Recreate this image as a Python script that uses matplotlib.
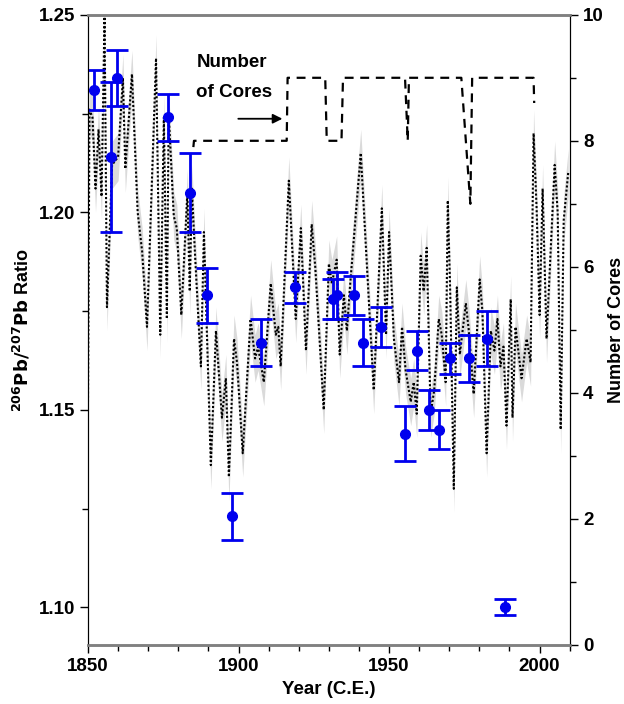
import matplotlib.pyplot as plt
from matplotlib.ticker import MultipleLocator

plt.rcParams['font.family'] = ['Liberation Sans', 'DejaVu Sans']
plt.rcParams['font.weight'] = 'bold'

# Pb isotope record (peaks / troughs)
rec_year = [1850, 1850.5, 1851.5, 1852.5, 1853.5, 1854.5, 1855.5, 1856.3, 1858, 1860, 1861.6, 1862.4,
            1864.6, 1866.5, 1868, 1869.6, 1872.6, 1874, 1875.2, 1876.2, 1876.8, 1878.5, 1879.5,
            1881, 1883, 1883.8, 1884.5, 1885.5, 1887.5, 1888.5, 1890.8, 1892.5, 1894.5, 1895.8,
            1896.8, 1898.5, 1899.5, 1901.4, 1904, 1905.5, 1906.5, 1908.4, 1910.7, 1912.4, 1913.2,
            1914, 1916.7, 1917.5, 1919, 1920.7, 1922.4, 1924.3, 1925.5, 1928.3, 1930, 1931,
            1932.6, 1933.6, 1935, 1936, 1937, 1940.6, 1941.6, 1944.9, 1947.6, 1949, 1950, 1951.6,
            1953.3, 1954.3, 1955.5, 1957.2, 1958.2, 1959.2, 1960.5, 1961.5, 1962.5, 1963.8,
            1965, 1966.5, 1967.5, 1968.8, 1969.5, 1970.3, 1971.5, 1972.5, 1973.5, 1975.5, 1976.5,
            1978.1, 1980.1, 1981, 1982.4, 1983.8, 1985, 1986, 1987, 1988, 1989, 1990.4, 1991,
            1992, 1994, 1995.7, 1997, 1998, 1999, 2000, 2001, 2002.3, 2005, 2006, 2007, 2008, 2009.5]
rec_ratio = [1.152, 1.226, 1.224, 1.206, 1.221, 1.204, 1.250, 1.176, 1.212, 1.214, 1.234, 1.211,
             1.235, 1.200, 1.190, 1.171, 1.239, 1.169, 1.224, 1.173, 1.225, 1.199, 1.196,
             1.174, 1.205, 1.180, 1.206, 1.190, 1.161, 1.195, 1.136, 1.170, 1.148, 1.158,
             1.133, 1.168, 1.162, 1.139, 1.173, 1.163, 1.166, 1.157, 1.182, 1.169, 1.171,
             1.161, 1.208, 1.196, 1.173, 1.196, 1.165, 1.197, 1.186, 1.150, 1.187, 1.182,
             1.188, 1.164, 1.179, 1.170, 1.181, 1.215, 1.201, 1.155, 1.201, 1.169, 1.195, 1.168,
             1.157, 1.171, 1.160, 1.152, 1.157, 1.149, 1.189, 1.180, 1.191, 1.149,
             1.155, 1.173, 1.169, 1.157, 1.203, 1.180, 1.130, 1.181, 1.164, 1.177, 1.170,
             1.154, 1.183, 1.175, 1.139, 1.170, 1.165, 1.173, 1.161, 1.166, 1.146, 1.178, 1.148,
             1.171, 1.158, 1.168, 1.162, 1.220, 1.201, 1.174, 1.206, 1.168, 1.212, 1.200, 1.145, 1.198, 1.210]
band = 0.006

# discrete samples with error bars
pt_year = [1852, 1857.6, 1859.6, 1876.6, 1883.9, 1889.5, 1897.8, 1907.4, 1918.7, 1931.3, 1932.6,
           1938.3, 1941.3, 1947.3, 1955.2, 1959.2, 1963.2, 1966.5, 1970.4, 1976.4, 1982.4, 1988.4]
pt_ratio = [1.231, 1.214, 1.234, 1.224, 1.205, 1.179, 1.123, 1.167, 1.181, 1.178, 1.179,
            1.179, 1.167, 1.171, 1.144, 1.165, 1.150, 1.145, 1.163, 1.163, 1.168, 1.100]
pt_err = [0.005, 0.019, 0.007, 0.006, 0.010, 0.007, 0.006, 0.006, 0.004, 0.005, 0.006,
          0.005, 0.006, 0.005, 0.007, 0.005, 0.005, 0.005, 0.004, 0.006, 0.007, 0.002]

# number of cores
core_year = [1885, 1885.2, 1916, 1916.3, 1928.8, 1929.3, 1934.2, 1934.7, 1955.3, 1956.2, 1956.6,
             1974, 1977, 1977.6, 1998, 1998.2]
core_n = [7.9, 8, 8, 9, 9, 8, 8, 9, 9, 8, 9, 9, 7, 9, 9, 8.6]

fs = 13.5
fig, ax = plt.subplots(figsize=(6.24, 7.04), dpi=100)
fig.subplots_adjust(left=0.141, right=0.913, bottom=0.084, top=0.979)

ax.fill_between(rec_year, [r - band for r in rec_ratio], [r + band for r in rec_ratio],
                color='#dadada', lw=0, zorder=1)
ax.plot(rec_year, rec_ratio, color='black', ls=(0, (1, 1)), lw=1.5, zorder=2)
ax.errorbar(pt_year, pt_ratio, yerr=pt_err, fmt='o', color='#0000ee', ms=7,
            elinewidth=2, capsize=8, capthick=2, zorder=4)

ax.set_xlim(1850, 2010)
ax.set_ylim(1.0905, 1.25)
ax.xaxis.set_major_locator(MultipleLocator(50))
ax.xaxis.set_minor_locator(MultipleLocator(10))
ax.yaxis.set_major_locator(MultipleLocator(0.05))
ax.yaxis.set_minor_locator(MultipleLocator(0.025))
ax.yaxis.set_major_formatter(plt.FormatStrFormatter('%.2f'))
ax.tick_params(labelsize=fs, length=6, width=1)
ax.tick_params(which='minor', length=4, width=1)
ax.set_xlabel('Year (C.E.)', fontsize=fs, fontweight='bold')
ax.set_ylabel('$\\mathbf{^{206}Pb/^{207}Pb}$ Ratio', fontsize=13, fontweight='bold')
for s in ['top', 'bottom']:
    ax.spines[s].set_color('#808080')
    ax.spines[s].set_linewidth(1.8)

ax2 = ax.twinx()
ax2.plot(core_year, core_n, color='black', ls=(0, (4, 3)), lw=1.6)
ax2.set_ylim(0, 10)
ax2.yaxis.set_major_locator(MultipleLocator(2))
ax2.yaxis.set_minor_locator(MultipleLocator(1))
ax2.tick_params(labelsize=fs, length=6, width=1)
ax2.tick_params(which='minor', length=4, width=1)
ax2.set_ylabel('Number of Cores', fontsize=13, fontweight='bold', labelpad=3)
for s in ['top', 'bottom']:
    ax2.spines[s].set_color('#808080')
    ax2.spines[s].set_linewidth(1.8)

ax2.text(1886, 9.0, 'Number\n\nof Cores', fontsize=fs, fontweight='bold', va='center',
         linespacing=0.85)
ax2.annotate('', xy=(1915.5, 8.35), xytext=(1899, 8.35),
             arrowprops=dict(arrowstyle='-|>', color='black', lw=1.3, mutation_scale=14))

fig.savefig('out.png')
